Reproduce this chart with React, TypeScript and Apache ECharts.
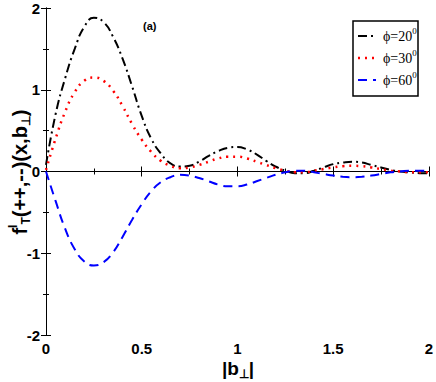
import React, { useEffect, useRef } from "react";
import * as echarts from "echarts";

const bValues = [0, 0.05, 0.1, 0.15, 0.2, 0.25, 0.3, 0.35, 0.4, 0.45, 0.5, 0.55, 0.6, 0.65, 0.7, 0.75, 0.8, 0.85, 0.9, 0.95, 1.0, 1.05, 1.1, 1.15, 1.2, 1.25, 1.3, 1.35, 1.4, 1.45, 1.5, 1.55, 1.6, 1.65, 1.7, 1.75, 1.8, 1.85, 1.9, 1.95, 2.0];
const phi20 = [0.08, 0.7, 1.14, 1.5, 1.77, 1.88, 1.83, 1.65, 1.38, 1.04, 0.68, 0.4, 0.22, 0.1, 0.06, 0.07, 0.12, 0.19, 0.25, 0.29, 0.3, 0.27, 0.21, 0.13, 0.06, 0.01, -0.02, -0.02, 0.01, 0.05, 0.09, 0.11, 0.12, 0.11, 0.08, 0.05, 0.02, 0.0, -0.01, -0.02, -0.02];
const phi30 = [0.02, 0.4, 0.73, 0.97, 1.11, 1.15, 1.11, 0.99, 0.8, 0.58, 0.39, 0.24, 0.13, 0.07, 0.04, 0.05, 0.08, 0.12, 0.16, 0.18, 0.18, 0.16, 0.12, 0.08, 0.04, 0.01, -0.01, -0.01, 0.01, 0.03, 0.05, 0.065, 0.07, 0.065, 0.05, 0.03, 0.01, 0.0, -0.01, -0.01, -0.01];
const phi60 = [0, -0.36, -0.7, -0.95, -1.1, -1.15, -1.11, -0.99, -0.8, -0.59, -0.4, -0.24, -0.13, -0.07, -0.04, -0.05, -0.08, -0.12, -0.16, -0.18, -0.18, -0.16, -0.12, -0.08, -0.04, -0.01, 0.01, 0.01, -0.01, -0.03, -0.05, -0.065, -0.07, -0.065, -0.05, -0.03, -0.01, 0.0, 0.01, 0.01, 0.01];
const seriesNames = ["20", "30", "60"];

const pair = (ys: number[]) => bValues.map((b, i) => [b, ys[i]]);

export default function App() {
  const ref = useRef<HTMLDivElement>(null);
  useEffect(() => {
    const chart = echarts.init(ref.current!, undefined, { renderer: "svg" });
    const sans = "Liberation Sans, Arial, sans-serif";
    const serif = "Liberation Serif, serif";
    const labelFont = { fontFamily: sans, fontWeight: "bold" as const, fontSize: 15, color: "#000" };
    const axisLine = { show: true, lineStyle: { color: "#000", width: 1 } };
    const tick = { show: true, inside: true, length: 5, lineStyle: { color: "#000" } };
    const minor = { show: true, splitNumber: 2, length: 3, lineStyle: { color: "#000" } };
    const styles = [
      { color: "#000", type: [9, 4, 2, 4], width: 2 },
      { color: "#ff0000", type: [2, 5], width: 2.5 },
      { color: "#0000ff", type: [9, 6], width: 2 },
    ];
    const legendY = [36, 58, 80];
    const legendItems: any[] = [];
    seriesNames.forEach((n, i) => {
      legendItems.push({
        type: "line",
        z: 20,
        shape: { x1: 358, y1: legendY[i], x2: 376, y2: legendY[i] },
        style: { stroke: styles[i].color, lineWidth: styles[i].width, lineDash: styles[i].type },
      });
      legendItems.push({
        type: "text",
        z: 20,
        x: 383,
        y: legendY[i],
        style: {
          text: "{a|ϕ=" + n + "}{s|0}",
          verticalAlign: "middle",
          rich: {
            a: { fontFamily: serif, fontSize: 14, fill: "#000" },
            s: { fontFamily: serif, fontSize: 9, fill: "#000", padding: [0, 0, 10, 0] },
          },
        },
      });
    });
    chart.setOption({
      animation: false,
      grid: { left: 46, right: 5, top: 8, bottom: 47 },
      xAxis: [
        {
          type: "value", min: 0, max: 2, interval: 0.5,
          axisLine, axisTick: tick, minorTick: minor, splitLine: { show: false },
          axisLabel: { ...labelFont, margin: 6, formatter: (v: number) => String(v) },
        },
        {
          type: "value", position: "top", min: 0, max: 2, interval: 0.5,
          axisLine, axisTick: tick, minorTick: minor, splitLine: { show: false },
          axisLabel: { show: false },
        },
      ],
      yAxis: [
        {
          type: "value", min: -2, max: 2, interval: 1,
          axisLine, axisTick: tick, minorTick: minor, splitLine: { show: false },
          axisLabel: { ...labelFont, margin: 6 },
        },
        {
          type: "value", position: "right", min: -2, max: 2, interval: 1,
          axisLine, axisTick: tick, minorTick: minor, splitLine: { show: false },
          axisLabel: { show: false },
        },
      ],
      series: seriesNames.map((n, i) => ({
        name: "ϕ=" + n,
        type: "line",
        smooth: true,
        showSymbol: false,
        data: pair([phi20, phi30, phi60][i]),
        lineStyle: styles[i],
      })),
      graphic: [
        {
          type: "rect",
          z: 10,
          shape: { x: 353, y: 21, width: 65, height: 75 },
          style: { fill: "#fff", stroke: "#000", lineWidth: 1.5 },
        },
        ...legendItems,
        {
          type: "text", x: 143, y: 20,
          style: { text: "(a)", fontFamily: sans, fontWeight: "bold", fontSize: 11, fill: "#000" },
        },
        {
          type: "text", x: 20, y: 172, rotation: Math.PI / 2,
          style: {
            text: "{m|f}{sp|l}{sb|T}{m|(++,--)(x,b}{sb|⊥}{m|)}",
            align: "center", verticalAlign: "middle",
            rich: {
              m: { fontFamily: sans, fontWeight: "bold", fontSize: 20, fill: "#000" },
              sp: { fontFamily: sans, fontWeight: "bold", fontSize: 12, fill: "#000", padding: [0, 0, 14, 0] },
              sb: { fontFamily: sans, fontWeight: "bold", fontSize: 12, fill: "#000", padding: [12, 0, 0, 0] },
            },
          },
        },
        {
          type: "text", x: 238, y: 368,
          style: {
            text: "{m||b}{sb|⊥}{m||}",
            align: "center", verticalAlign: "middle",
            rich: {
              m: { fontFamily: sans, fontWeight: "bold", fontSize: 19, fill: "#000" },
              sb: { fontFamily: sans, fontWeight: "bold", fontSize: 12, fill: "#000", padding: [12, 0, 0, 0] },
            },
          },
        },
      ],
    });
    return () => chart.dispose();
  }, []);
  return <div ref={ref} style={{ width: 436, height: 382, position: "absolute", left: 0, top: 0, background: "#fff" }} />;
}
